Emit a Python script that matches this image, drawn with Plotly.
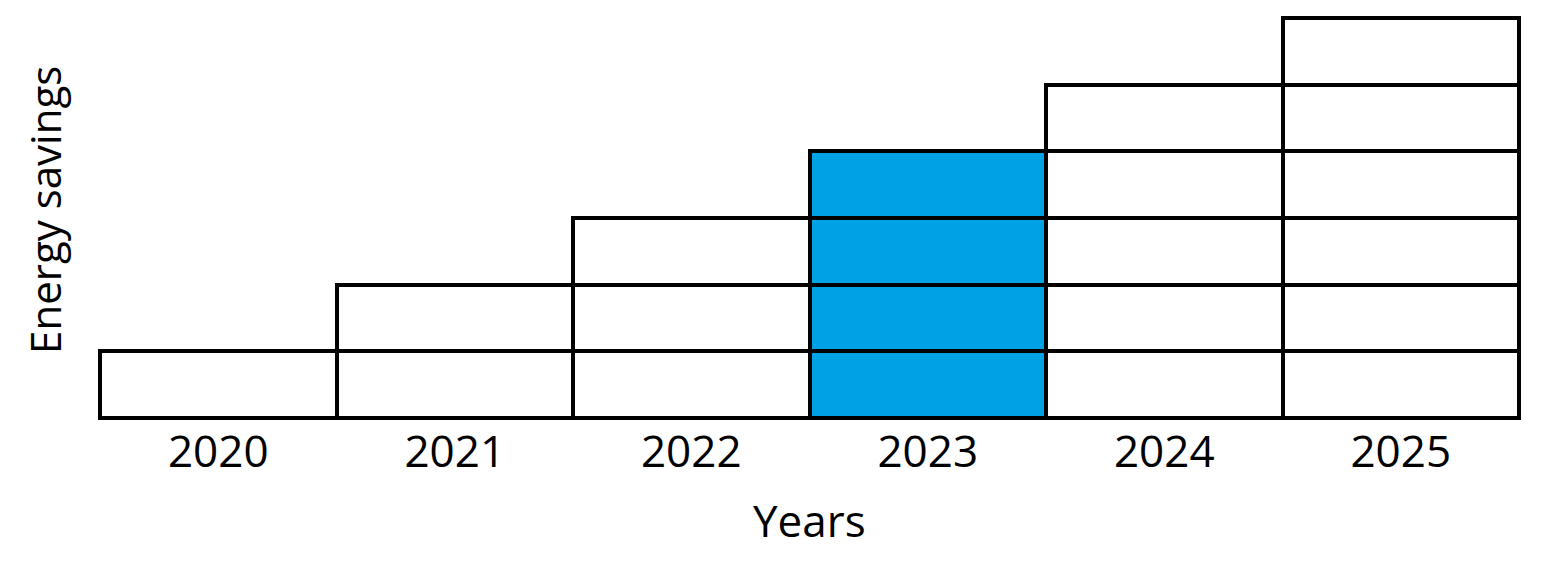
import plotly.graph_objects as go

years = ["2020", "2021", "2022", "2023", "2024", "2025"]
blocks = [1, 2, 3, 4, 5, 6]
highlight_year = "2023"

white = "#FFFFFF"
blue = "#00A2E6"

fig = go.Figure()
max_blocks = max(blocks)
for level in range(1, max_blocks + 1):
    ys = [1 if b >= level else None for b in blocks]
    colors = [blue if y == highlight_year else white for y in years]
    fig.add_trace(go.Bar(
        x=years, y=ys,
        marker=dict(color=colors, line=dict(color="black", width=4)),
        showlegend=False, hoverinfo="skip",
    ))

font_family = "Open Sans, Lato, sans-serif"
fig.update_layout(
    barmode="stack", bargap=0,
    width=1547, height=556,
    margin=dict(l=88, r=32, t=6, b=142),
    plot_bgcolor="white", paper_bgcolor="white",
    font=dict(family=font_family, color="black", size=44),
    xaxis=dict(
        type="category", range=[-0.5169, 5.5169],
        showgrid=False, zeroline=False, showline=False, ticks="",
        tickfont=dict(size=44),
    ),
    yaxis=dict(
        range=[-0.06, 6.06], showgrid=False, zeroline=False,
        showline=False, showticklabels=False, ticks="",
    ),
    annotations=[
        dict(text="Years", xref="paper", yref="paper", x=0.5, y=-0.24,
             xanchor="center", yanchor="middle", showarrow=False,
             font=dict(size=44)),
        dict(text="Energy savings", xref="paper", yref="paper", x=-0.0357, y=0.52,
             xanchor="center", yanchor="middle", showarrow=False, textangle=-90,
             font=dict(size=42)),
    ],
)

fig.write_html("out.html")
